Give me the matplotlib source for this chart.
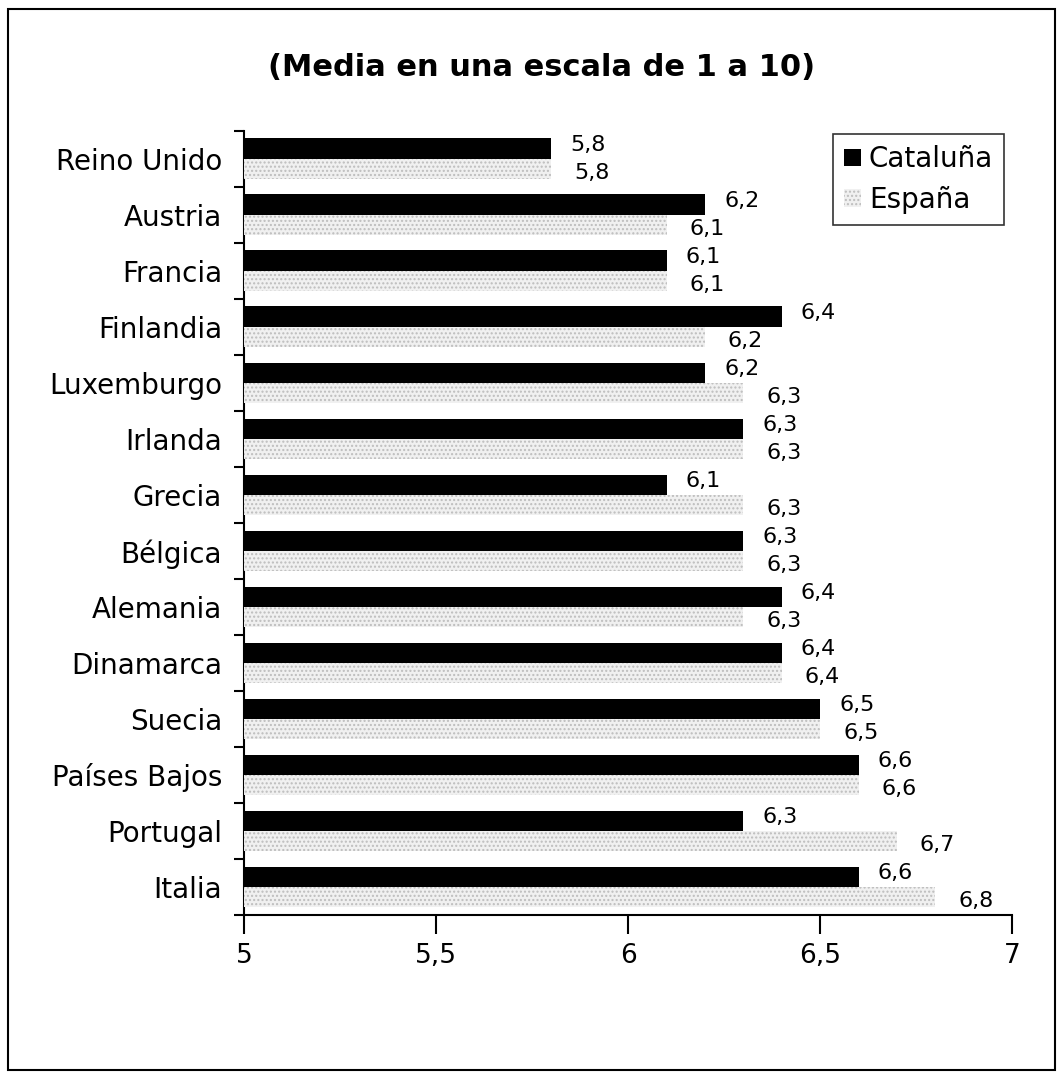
import matplotlib
matplotlib.use('Agg')
import matplotlib.pyplot as plt
import numpy as np
from matplotlib.patches import Rectangle

# Data
paises = ['Reino Unido', 'Austria', 'Francia', 'Finlandia', 'Luxemburgo',
          'Irlanda', 'Grecia', 'Bélgica', 'Alemania', 'Dinamarca', 'Suecia',
          'Países Bajos', 'Portugal', 'Italia']
cataluna = [5.8, 6.2, 6.1, 6.4, 6.2, 6.3, 6.1, 6.3, 6.4, 6.4, 6.5, 6.6, 6.3, 6.6]
espana = [5.8, 6.1, 6.1, 6.2, 6.3, 6.3, 6.3, 6.3, 6.3, 6.4, 6.5, 6.6, 6.7, 6.8]
xticks = [5, 5.5, 6, 6.5, 7]

plt.rcParams['font.family'] = ['DejaVu Sans']

fig = plt.figure(figsize=(10.62, 10.79), dpi=100)
ax = fig.add_axes([0.230, 0.152, 0.723, 0.727])

base = 5
y = np.arange(len(paises))
h = 0.36
ax.barh(y - h / 2, np.array(cataluna) - base, left=base, height=h,
        color='black', label='Cataluña', zorder=3)
ax.barh(y + h / 2, np.array(espana) - base, left=base, height=h,
        facecolor='#f0f0f0', edgecolor='#bdbdbd', hatch='....', lw=0,
        label='España', zorder=3)

fmt = lambda v: ('%g' % v).replace('.', ',')
for k in range(len(paises)):
    ax.text(cataluna[k] + 0.05, y[k] - h / 2 - 0.07, fmt(cataluna[k]),
            ha='left', va='center', fontsize=16)
    ax.text(espana[k] + 0.06, y[k] + h / 2 + 0.07, fmt(espana[k]),
            ha='left', va='center', fontsize=16)

ax.set_xlim(5, 7)
ax.set_ylim(len(paises) - 0.5, -0.5)
ax.set_xticks(xticks)
ax.set_xticklabels([fmt(v) for v in xticks], fontsize=19)
ax.set_yticks(y)
ax.set_yticklabels(paises, fontsize=20)
ax.tick_params(axis='y', length=0, pad=16)
ax.set_yticks(np.arange(len(paises) + 1) - 0.5, minor=True)
ax.tick_params(axis='y', which='minor', length=7, width=1.5, direction='out')
ax.tick_params(axis='x', length=14, width=1.5, direction='out', pad=6)
for s in ('top', 'right'):
    ax.spines[s].set_visible(False)
ax.spines['left'].set_linewidth(1.5)
ax.spines['bottom'].set_linewidth(1.5)

fig.text(0.51, 0.937, '(Media en una escala de 1 a 10)', ha='center',
         va='center', fontsize=22, fontweight='bold')

leg = ax.legend(loc='upper right', bbox_to_anchor=(1.008, 1.013),
                fontsize=20, frameon=True, fancybox=False, edgecolor='black',
                handlelength=0.6, handleheight=0.6, handletextpad=0.3,
                borderpad=0.4, labelspacing=0.45)
leg.get_frame().set_linewidth(1.2)

fig.patches.append(Rectangle((0.008, 0.008), 0.985, 0.984, fill=False,
                             edgecolor='black', lw=1.5,
                             transform=fig.transFigure, figure=fig))

fig.savefig('out.png', dpi=100)
